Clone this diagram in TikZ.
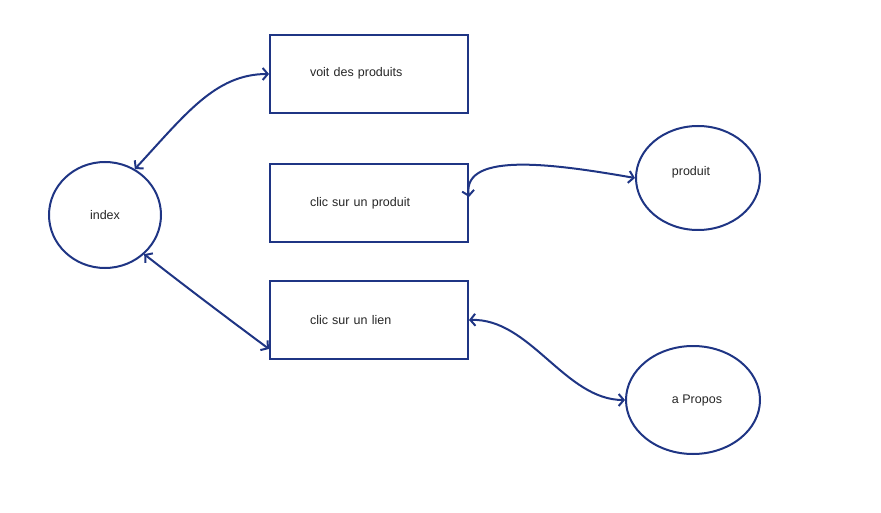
\documentclass[tikz,border=0pt]{standalone}
\usepackage{fontspec}
\setmainfont{Liberation Sans}
\usetikzlibrary{shapes, arrows.meta, positioning}

\definecolor{lineblue}{RGB}{31,53,132}

\tikzset{
	page/.style = {x=1pt, y=-1pt},
	etat/.style = {draw=lineblue, line width=2pt, ellipse, font=\fontsize{12.5}{15}\selectfont, text=black!85},
	action/.style = {draw=lineblue, line width=2pt, rectangle, minimum width=198pt, minimum height=78pt,
		text width=118pt, align=left, font=\fontsize{12.5}{15}\selectfont, text=black!85},
	lien/.style = {draw=lineblue, line width=2pt, {Straight Barb[length=5pt,width=12pt]}-{Straight Barb[length=5pt,width=12pt]}}
}

\begin{document}
\begin{tikzpicture}[page]
	\useasboundingbox (0,0) rectangle (881,513);

	% etats
	\node[etat, minimum width=112pt, minimum height=106pt] (index) at (105,215) {index};
	\node[etat, minimum width=124pt, minimum height=104pt] (produit) at (698,178) {\raisebox{14pt}{produit}\hspace{14pt}\mbox{}};
	\node[etat, minimum width=134pt, minimum height=108pt] (apropos) at (693,400) {\hspace{8pt}a Propos};

	% actions
	\node[action] (voir) at (369,74) {\raisebox{4pt}{voit des produits}};
	\node[action] (clicproduit) at (369,203) {clic sur un produit};
	\node[action] (cliclien) at (369,320) {clic sur un lien};

	% liens
	\draw[lien] (index.57) .. controls (185,115) and (215,74) .. (voir.west);
	\draw[lien] ([yshift=6pt]clicproduit.east) .. controls (462,150) and (560,165) .. (produit.west);
	\draw[lien] (index.-45) .. controls (190,290) and (230,320) .. ([yshift=11pt]cliclien.south west);
	\draw[lien] (cliclien.east) .. controls (530,318) and (565,400) .. (apropos.west);
\end{tikzpicture}
\end{document}
